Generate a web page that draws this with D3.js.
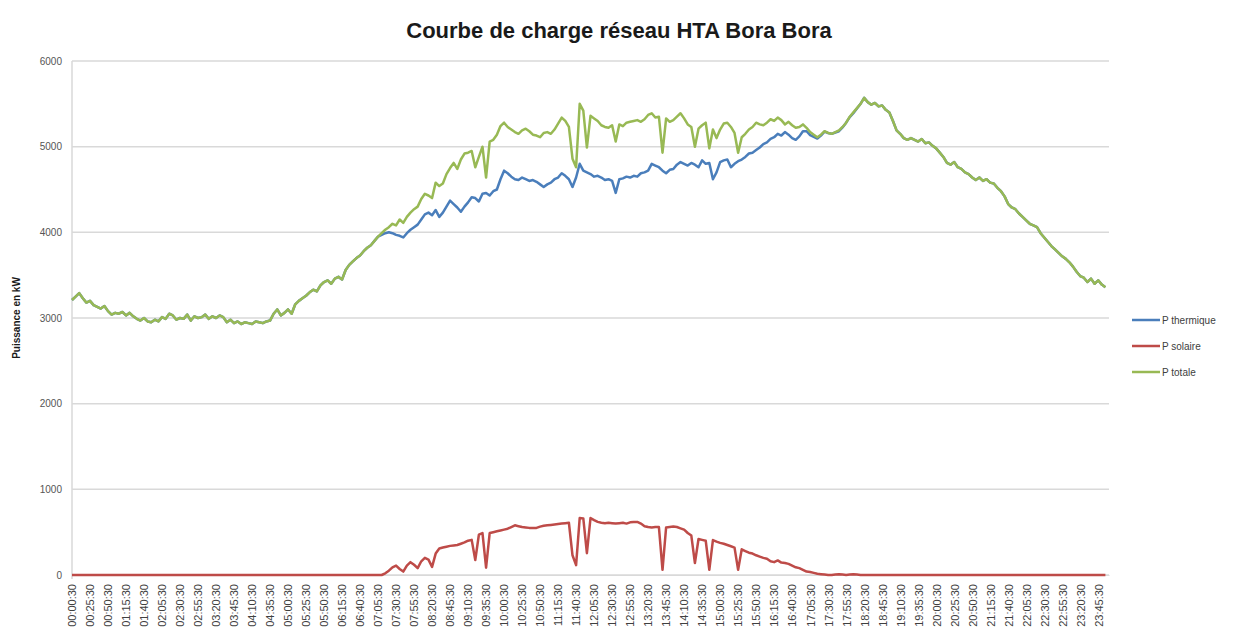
<!DOCTYPE html>
<html lang="fr">
<head>
<meta charset="UTF-8">
<title>Courbe de charge réseau HTA Bora Bora</title>
<script src="https://d3js.org/d3.v7.min.js"></script>
<style>
  html, body { margin: 0; padding: 0; background: #fff; }
  svg { display: block; }
</style>
</head>
<body>
<div id="chart"></div>
<script>
// pas de 5 minutes, une ligne = une heure
const stepMinutes = 5;

const pTotale = [
  3210, 3250, 3290, 3230, 3180, 3200, 3150, 3130, 3110, 3140, 3080, 3040,
  3060, 3050, 3070, 3030, 3060, 3020, 2990, 2970, 3000, 2960, 2950, 2980,
  2960, 3010, 2990, 3050, 3030, 2980, 3000, 2990, 3040, 2970, 3020, 3000,
  3010, 3040, 2990, 3020, 3000, 3030, 3010, 2950, 2980, 2940, 2960, 2930,
  2950, 2940, 2930, 2960, 2950, 2940, 2960, 2970, 3050, 3100, 3030, 3060,
  3100, 3050, 3160, 3200, 3230, 3260, 3300, 3330, 3310, 3380, 3420, 3440,
  3400, 3460, 3480, 3450, 3560, 3620, 3660, 3700, 3730, 3780, 3820, 3850,
  3900, 3950, 3990, 4030, 4060, 4100, 4080, 4150, 4110, 4180, 4230, 4270,
  4300, 4390, 4450, 4430, 4400, 4580, 4540, 4570, 4680, 4750, 4810, 4740,
  4850, 4920, 4930, 4950, 4760, 4880, 5000, 4640, 5060, 5080, 5140, 5240,
  5280, 5230, 5200, 5170, 5150, 5190, 5210, 5180, 5140, 5130, 5110, 5160,
  5170, 5150, 5200, 5270, 5340, 5300, 5230, 4860, 4760, 5500, 5420, 4990,
  5360, 5330, 5300, 5250, 5230, 5220, 5250, 5060, 5260, 5240, 5280, 5290,
  5300, 5310, 5290, 5320, 5370, 5390, 5340, 5350, 4930, 5330, 5290, 5310,
  5350, 5390, 5330, 5260, 5230, 5000, 5210, 5250, 5280, 4980, 5200, 5100,
  5200, 5270, 5280, 5230, 5160, 4930, 5110, 5150, 5200, 5230, 5280, 5260,
  5250, 5280, 5320, 5300, 5340, 5310, 5260, 5290, 5250, 5220, 5230, 5260,
  5220, 5170, 5140, 5110, 5140, 5180, 5160, 5150, 5170, 5190, 5230, 5280,
  5350, 5400, 5450, 5500, 5570, 5520, 5490, 5510, 5470, 5480, 5430, 5400,
  5300, 5190, 5150, 5100, 5080, 5100, 5080, 5060, 5090, 5040, 5050, 5010,
  4980, 4930, 4880, 4810, 4790, 4820, 4760, 4740, 4700, 4680, 4640, 4610,
  4640, 4600, 4620, 4580, 4570, 4520, 4480, 4420, 4330, 4290, 4270, 4220,
  4180, 4140, 4100, 4080, 4060, 3990, 3940, 3890, 3840, 3800, 3760, 3720,
  3690, 3650, 3600, 3540, 3490, 3470, 3420, 3460, 3400, 3440, 3390, 3360
];

const pSolaire = [
  0, 0, 0, 0, 0, 0, 0, 0, 0, 0, 0, 0,
  0, 0, 0, 0, 0, 0, 0, 0, 0, 0, 0, 0,
  0, 0, 0, 0, 0, 0, 0, 0, 0, 0, 0, 0,
  0, 0, 0, 0, 0, 0, 0, 0, 0, 0, 0, 0,
  0, 0, 0, 0, 0, 0, 0, 0, 0, 0, 0, 0,
  0, 0, 0, 0, 0, 0, 0, 0, 0, 0, 0, 0,
  0, 0, 0, 0, 0, 0, 0, 0, 0, 0, 0, 0,
  0, 0, 0, 20, 50, 90, 110, 70, 40, 110, 150, 120,
  80, 160, 200, 180, 95, 250, 310, 320, 330, 340, 345, 350,
  365, 380, 400, 410, 175, 470, 490, 85, 490, 500, 510, 520,
  530, 540, 560, 580, 570, 560, 555, 550, 550, 550, 565, 575,
  580, 585, 590, 595, 600, 605, 610, 230, 115, 665, 660, 255,
  665, 640, 620, 610, 605, 610, 605, 600, 605, 610, 600, 615,
  618, 620, 600, 570, 560, 555, 560, 560, 60, 555, 560, 565,
  560, 545, 530, 490, 460, 140, 420, 410, 400, 60, 408, 390,
  375, 365, 350, 335, 320, 60, 300, 280, 260, 250, 230, 215,
  200, 190, 160, 150, 170, 145, 140, 130, 110, 90, 80, 60,
  40, 35, 25, 15, 10, 5, 0, 0, 5, 10, 5, 0,
  5, 10, 5, 0, 0, 0, 0, 0, 0, 0, 0, 0,
  0, 0, 0, 0, 0, 0, 0, 0, 0, 0, 0, 0,
  0, 0, 0, 0, 0, 0, 0, 0, 0, 0, 0, 0,
  0, 0, 0, 0, 0, 0, 0, 0, 0, 0, 0, 0,
  0, 0, 0, 0, 0, 0, 0, 0, 0, 0, 0, 0,
  0, 0, 0, 0, 0, 0, 0, 0, 0, 0, 0, 0
];

const pThermique = [
  3210, 3250, 3290, 3230, 3180, 3200, 3150, 3130, 3110, 3140, 3080, 3040,
  3060, 3050, 3070, 3030, 3060, 3020, 2990, 2970, 3000, 2960, 2950, 2980,
  2960, 3010, 2990, 3050, 3030, 2980, 3000, 2990, 3040, 2970, 3020, 3000,
  3010, 3040, 2990, 3020, 3000, 3030, 3010, 2950, 2980, 2940, 2960, 2930,
  2950, 2940, 2930, 2960, 2950, 2940, 2960, 2970, 3050, 3100, 3030, 3060,
  3100, 3050, 3160, 3200, 3230, 3260, 3300, 3330, 3310, 3380, 3420, 3440,
  3400, 3460, 3480, 3450, 3560, 3620, 3660, 3700, 3730, 3780, 3820, 3850,
  3900, 3950, 3970, 3990, 4000, 3990, 3970, 3960, 3940, 3990, 4030, 4060,
  4090, 4150, 4210, 4230, 4200, 4260, 4180, 4230, 4300, 4370, 4330, 4290,
  4240, 4300, 4350, 4410, 4400, 4360, 4450, 4460, 4430, 4480, 4500, 4620,
  4720, 4690, 4650, 4620, 4610, 4640, 4620, 4600, 4610, 4590, 4560, 4530,
  4560, 4580, 4620, 4640, 4690, 4660, 4620, 4530, 4640, 4800, 4720, 4700,
  4680, 4650, 4660, 4640, 4610, 4620, 4600, 4460, 4620, 4630, 4650, 4640,
  4660, 4650, 4690, 4700, 4720, 4800, 4780, 4760, 4720, 4690, 4730, 4740,
  4790, 4820, 4800, 4780, 4810, 4790, 4760, 4840, 4800, 4810, 4620, 4700,
  4820, 4840, 4850, 4760, 4800, 4830, 4850, 4880, 4920, 4930, 4960, 4990,
  5030, 5050, 5090, 5110, 5150, 5130, 5170, 5140, 5100, 5080, 5120, 5180,
  5180, 5135, 5115, 5095, 5130, 5175, 5160, 5150, 5165, 5180, 5225, 5280,
  5345, 5390, 5445, 5500, 5570, 5520, 5490, 5510, 5470, 5480, 5430, 5400,
  5300, 5190, 5150, 5100, 5080, 5100, 5080, 5060, 5090, 5040, 5050, 5010,
  4980, 4930, 4880, 4810, 4790, 4820, 4760, 4740, 4700, 4680, 4640, 4610,
  4640, 4600, 4620, 4580, 4570, 4520, 4480, 4420, 4330, 4290, 4270, 4220,
  4180, 4140, 4100, 4080, 4060, 3990, 3940, 3890, 3840, 3800, 3760, 3720,
  3690, 3650, 3600, 3540, 3490, 3470, 3420, 3460, 3400, 3440, 3390, 3360
];

// une étiquette toutes les 25 minutes
const tickLabels = [
  "00:00:30", "00:25:30", "00:50:30", "01:15:30", "01:40:30", "02:05:30",
  "02:30:30", "02:55:30", "03:20:30", "03:45:30", "04:10:30", "04:35:30",
  "05:00:30", "05:25:30", "05:50:30", "06:15:30", "06:40:30", "07:05:30",
  "07:30:30", "07:55:30", "08:20:30", "08:45:30", "09:10:30", "09:35:30",
  "10:00:30", "10:25:30", "10:50:30", "11:15:30", "11:40:30", "12:05:30",
  "12:30:30", "12:55:30", "13:20:30", "13:45:30", "14:10:30", "14:35:30",
  "15:00:30", "15:25:30", "15:50:30", "16:15:30", "16:40:30", "17:05:30",
  "17:30:30", "17:55:30", "18:20:30", "18:45:30", "19:10:30", "19:35:30",
  "20:00:30", "20:25:30", "20:50:30", "21:15:30", "21:40:30", "22:05:30",
  "22:30:30", "22:55:30", "23:20:30", "23:45:30"
];
const yTicks = [0, 1000, 2000, 3000, 4000, 5000, 6000];

const series = [
  { name: "P thermique", values: pThermique, color: "#4a7ebb" },
  { name: "P solaire", values: pSolaire, color: "#be4b48" },
  { name: "P totale", values: pTotale, color: "#98b954" }
];

const width = 1234, height = 637;
const plot = { left: 72, right: 1109, top: 61, bottom: 575 };

const svg = d3.select("#chart").append("svg")
  .attr("width", width)
  .attr("height", height);

const x = d3.scaleLinear().domain([0, 1440]).range([plot.left, plot.right]);
const y = d3.scaleLinear().domain([0, 6000]).range([plot.bottom, plot.top]);

// quadrillage
svg.append("g")
  .selectAll("line")
  .data(yTicks)
  .join("line")
  .attr("x1", plot.left).attr("x2", plot.right)
  .attr("y1", d => y(d)).attr("y2", d => y(d))
  .attr("stroke", "#d9d9d9")
  .attr("stroke-width", 1.5);

svg.append("line")
  .attr("x1", plot.left).attr("x2", plot.left)
  .attr("y1", plot.top).attr("y2", plot.bottom + 4)
  .attr("stroke", "#d9d9d9")
  .attr("stroke-width", 1.5);

// axe Y
const yAxis = svg.append("g")
  .attr("transform", `translate(${plot.left},0)`)
  .call(d3.axisLeft(y).tickValues(yTicks).tickSize(0).tickPadding(10).tickFormat(d3.format("d")));
yAxis.select(".domain").remove();
yAxis.selectAll("text")
  .attr("font-family", "Liberation Sans, Arial, sans-serif")
  .attr("font-size", 10)
  .attr("fill", "#555");

// axe X
const xAxis = svg.append("g")
  .attr("transform", `translate(0,${plot.bottom})`)
  .call(d3.axisBottom(x)
    .tickValues(tickLabels.map((d, i) => i * 25))
    .tickSize(0)
    .tickFormat((d, i) => tickLabels[i]));
xAxis.select(".domain").attr("stroke", "#d9d9d9");
xAxis.selectAll("text")
  .attr("font-family", "Liberation Sans, Arial, sans-serif")
  .attr("font-size", 11)
  .attr("fill", "#404040")
  .attr("text-anchor", "end")
  .attr("transform", "rotate(-90)")
  .attr("x", -9)
  .attr("y", 0)
  .attr("dy", "0.35em");

// courbes
const line = d3.line()
  .x((d, i) => x(i * stepMinutes))
  .y(d => y(d));

svg.append("g")
  .selectAll("path")
  .data(series)
  .join("path")
  .attr("fill", "none")
  .attr("stroke", d => d.color)
  .attr("stroke-width", 2.5)
  .attr("stroke-linejoin", "round")
  .attr("d", d => line(d.values));

// titre
svg.append("text")
  .attr("x", 619)
  .attr("y", 38)
  .attr("text-anchor", "middle")
  .attr("font-family", "Liberation Sans, Arial, sans-serif")
  .attr("font-weight", "bold")
  .attr("font-size", 22)
  .attr("fill", "#1a1a1a")
  .text("Courbe de charge réseau HTA Bora Bora");

// titre axe Y
svg.append("text")
  .attr("transform", `translate(20,${(plot.top + plot.bottom) / 2}) rotate(-90)`)
  .attr("text-anchor", "middle")
  .attr("font-family", "Liberation Sans, Arial, sans-serif")
  .attr("font-weight", "bold")
  .attr("font-size", 10)
  .attr("fill", "#1a1a1a")
  .text("Puissance en kW");

// légende
const legend = svg.append("g")
  .attr("transform", "translate(1132,320)");
const item = legend.selectAll("g")
  .data(series)
  .join("g")
  .attr("transform", (d, i) => `translate(0,${i * 26})`);
item.append("line")
  .attr("x1", 0).attr("x2", 28)
  .attr("stroke", d => d.color)
  .attr("stroke-width", 2.5);
item.append("text")
  .attr("x", 30)
  .attr("dy", "0.35em")
  .attr("font-family", "Liberation Sans, Arial, sans-serif")
  .attr("font-size", 10)
  .attr("fill", "#404040")
  .text(d => d.name);
</script>
</body>
</html>
